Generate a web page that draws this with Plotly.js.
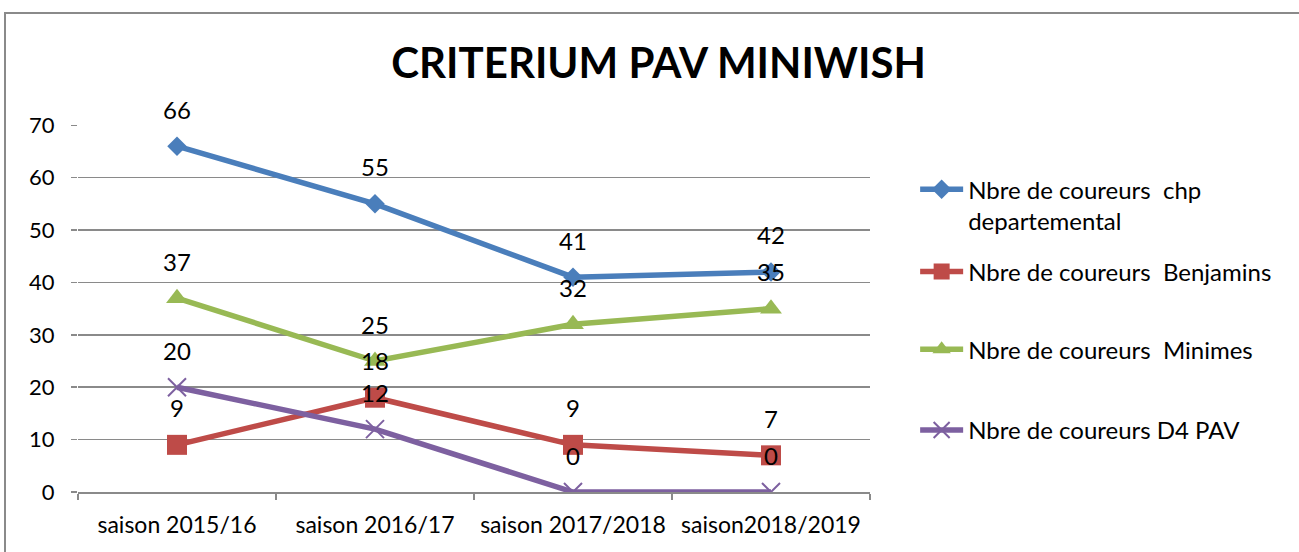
<!DOCTYPE html>
<html>
<head>
<meta charset="utf-8">
<script src="https://cdn.plot.ly/plotly-3.0.1.min.js"></script>
<style>
  html, body { margin: 0; padding: 0; background: #fff; overflow: hidden; }
  #chart { width: 1299px; height: 552px; }
  #frame { position: absolute; left: 4px; top: 12px; width: 1400px; height: 700px;
           border: 2px solid #8a8a8a; pointer-events: none; }
</style>
</head>
<body>
<div id="chart"></div>
<div id="frame"></div>
<script>
const categories = ["saison 2015/16", "saison 2016/17", "saison 2017/2018", "saison2018/2019"];
const seriesNames = [
  "Nbre de coureurs  chp<br>departemental",
  "Nbre de coureurs  Benjamins",
  "Nbre de coureurs  Minimes",
  "Nbre de coureurs D4 PAV"
];
const chpDepartemental = [66, 55, 41, 42];
const benjamins = [9, 18, 9, 7];
const minimes = [37, 25, 32, 35];
const d4Pav = [20, 12, 0, 0];
const yTicks = [0, 10, 20, 30, 40, 50, 60, 70];

const FONT = "Lato, 'Open Sans', sans-serif";
const seriesValues = [chpDepartemental, benjamins, minimes, d4Pav];
const colors = ["#4a7ebb", "#be4b48", "#98b954", "#7d60a0"];
const symbols = ["diamond", "square", "triangle-up", "x-thin-open"];
const sizes = [15, 20, 19, 18];
const legendIds = ["legend", "legend2", "legend3", "legend4"];
const legendY = [0.885, 0.661, 0.449, 0.229];

const traces = seriesValues.map((vals, i) => ({
  type: "scatter",
  mode: "lines+markers",
  x: categories,
  y: vals,
  name: seriesNames[i],
  legend: legendIds[i],
  line: { color: colors[i], width: 5.5 },
  marker: {
    symbol: symbols[i],
    size: sizes[i],
    color: colors[i],
    line: { color: colors[i], width: i === 3 ? 2 : 0 }
  }
}));

const annotations = [];
seriesValues.forEach((vals) => {
  vals.forEach((v, j) => {
    annotations.push({
      x: categories[j], y: v, xref: "x", yref: "y",
      text: String(v), showarrow: false, yshift: 37,
      font: { family: FONT, size: 24, color: "#000" }
    });
  });
});

const layout = {
  width: 1299, height: 552,
  margin: { l: 78, r: 429, t: 125, b: 60 },
  paper_bgcolor: "#fff", plot_bgcolor: "#fff",
  font: { family: FONT, size: 21, color: "#000" },
  title: {
    text: "<b>CRITERIUM PAV MINIWISH</b>",
    font: { family: FONT, size: 42, color: "#000" },
    x: 0.507, xref: "container", xanchor: "center",
    y: 0.885, yref: "container", yanchor: "middle"
  },
  xaxis: {
    type: "category",
    range: [-0.5, 3.5],
    showgrid: false,
    showline: true, linecolor: "#8a8a8a", linewidth: 1.5,
    ticks: "outside", ticklen: 6, tickcolor: "#8a8a8a", tickwidth: 1.5,
    tickson: "boundaries",
    tickangle: 0,
    ticklabelstandoff: 12,
    tickfont: { family: FONT, size: 23, color: "#000" },
    fixedrange: true
  },
  yaxis: {
    range: [0, 70.05],
    tickvals: yTicks,
    showgrid: true, gridcolor: "#8a8a8a", gridwidth: 1.5,
    zeroline: false, showline: false,
    ticks: "outside", ticklen: 6, tickcolor: "#8a8a8a", tickwidth: 1.5,
    ticklabelstandoff: 12,
    tickfont: { family: FONT, size: 22, color: "#000" },
    fixedrange: true
  },
  annotations: annotations,
  showlegend: true
};

legendIds.forEach((id, i) => {
  layout[id] = {
    x: 1.057, xref: "paper", xanchor: "left",
    y: legendY[i], yanchor: "top",
    valign: "top",
    itemwidth: 43,
    font: { family: FONT, size: 24, color: "#000" },
    bgcolor: "rgba(0,0,0,0)"
  };
});

Plotly.newPlot("chart", traces, layout, { displayModeBar: false, staticPlot: true });
</script>
</body>
</html>
